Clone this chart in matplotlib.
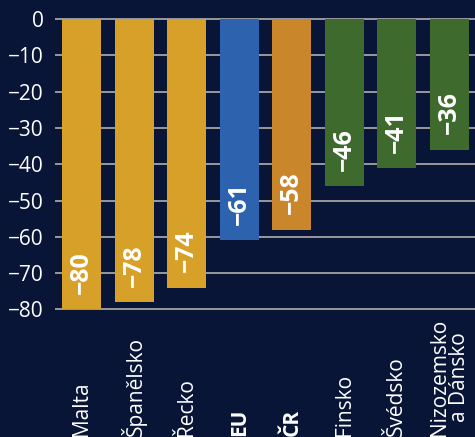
import matplotlib.pyplot as plt
import matplotlib.transforms as mtransforms
import numpy as np

# Countries and values
categories = ['Malta', 'Španělsko', 'Řecko', 'EU', 'ČR', 'Finsko', 'Švédsko',
              'Nizozemsko\na Dánsko']
values = [-80, -78, -74, -61, -58, -46, -41, -36]
bold_labels = ['EU', 'ČR']
bar_colors = ['#D7A028', '#D7A028', '#D7A028', '#2C62AE', '#C9862A',
              '#3E6B2D', '#3E6B2D', '#3E6B2D']
yticks = [0, -10, -20, -30, -40, -50, -60, -70, -80]

bg = '#081537'
plt.rcParams['font.family'] = ['Open Sans', 'DejaVu Sans']

fig = plt.figure(figsize=(4.75, 4.37), dpi=100, facecolor=bg)
ax = fig.add_axes([0.1158, 0.2835, 0.8842, 0.6771], facecolor=bg)

x = np.arange(len(categories))
ax.bar(x, values, width=0.74, color=bar_colors, zorder=3)

# value labels inside the bars, near the bar end
for xi, v in zip(x, values):
    ax.annotate(str(v).replace('-', '\u2212'), (xi, v), xytext=(0, 11),
                textcoords='offset points', rotation=90, ha='center',
                va='bottom', color='white', fontsize=18, fontweight='bold',
                zorder=4)

ax.set_xlim(-0.51, 7.49)
ax.set_ylim(-81, 0.5)
ax.set_yticks(yticks)
ax.set_yticklabels([str(t).replace('-', '\u2212') for t in yticks])
ax.tick_params(axis='y', length=0, pad=8, labelsize=15, labelcolor='white')
ax.set_xticks([])
ax.grid(axis='y', color='#A3A3A3', linewidth=1.3, zorder=1)
for s in ax.spines.values():
    s.set_visible(False)

# category labels standing up from the bottom edge of the figure
trans = mtransforms.blended_transform_factory(ax.transData, fig.transFigure)
for xi, name in zip(x, categories):
    ax.text(xi, 0.003, name, transform=trans, rotation=90, ha='center',
            va='bottom', color='white', fontsize=15,
            fontweight='bold' if name in bold_labels else 'normal',
            linespacing=0.95, clip_on=False)

fig.savefig('out.png', dpi=100, facecolor=bg)
